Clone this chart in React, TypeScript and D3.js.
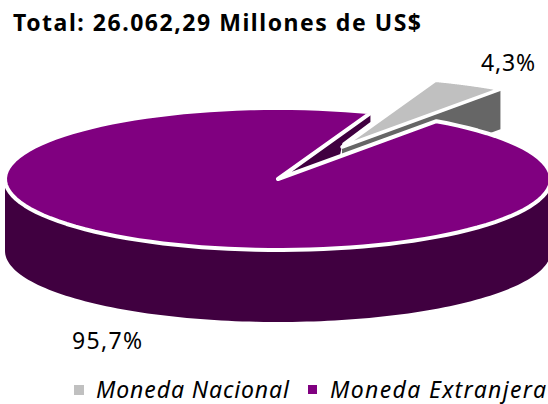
import React from "react";
import * as d3 from "d3";

const title = "Total: 26.062,29 Millones de US$";
const categories = ["Moneda Nacional", "Moneda Extranjera"];
const shares = [4.3, 95.7];
const shareLabels = ["4,3%", "95,7%"];
const topColors = ["#c0c0c0", "#800080"];
const wallColors = ["#666666", "#400040"];

const cx = 278, cy = 179, rx = 273, ry = 71;
const depth = 72, grayDepth = 40, explodeX = 64, explodeY = -32;
const font = "'Noto Sans', 'Open Sans', sans-serif";

const pt = (a: number, r = 1): [number, number] => [cx + rx * r * Math.sin(a), cy - ry * r * Math.cos(a)];
const line = d3.line<[number, number]>().x(d => d[0]).y(d => d[1]);
const arcPts = (a0: number, a1: number) => {
  const n = 120;
  return d3.range(n + 1).map(i => pt(a0 + ((a1 - a0) * i) / n));
};
const shift = (p: [number, number], dx: number, dy: number): [number, number] => [p[0] + dx, p[1] + dy];
const mix = (p: [number, number], q: [number, number], t: number): [number, number] => [p[0] + (q[0] - p[0]) * t, p[1] + (q[1] - p[1]) * t];

export default function App() {
  const start = (20 * Math.PI) / 180;
  const arcs = d3.pie<number>().sort(null).startAngle(start).endAngle(start + 2 * Math.PI)(shares);
  const [g, p] = arcs;
  const center: [number, number] = [cx, cy];

  // main slice
  const topMain = line([center, ...arcPts(p.startAngle, p.endAngle)]) + "Z";
  const front0 = Math.PI / 2, front1 = (3 * Math.PI) / 2;
  const frontTop = arcPts(front0, front1);
  const frontWall = line([...frontTop, ...frontTop.slice().reverse().map(q => shift(q, 0, depth))]) + "Z";

  // inner wall seen inside the notch
  const eA = pt(p.endAngle);
  const eB = pt(p.startAngle);
  const notchWall = line([
    center,
    mix(center, eA, 0.99),
    shift(mix(center, eA, 0.99), 0, 9),
    shift(mix(center, eA, 0.69), 0, 10),
    mix(center, eB, 0.39),
  ]) + "Z";

  // exploded slice
  const ex = (q: [number, number]) => shift(q, explodeX, explodeY);
  const gApex = ex(center);
  const gArc = arcPts(g.startAngle, g.endAngle).map(ex);
  const gEnd = gArc[gArc.length - 1];
  const gTop = line([gApex, ...gArc]) + "Z";
  const gWall = line([gApex, gEnd, shift(gEnd, 0, grayDepth), shift(gApex, 0, grayDepth)]) + "Z";

  return (
    <svg width={548} height={404} style={{ position: "absolute", left: 0, top: 0, background: "#fff" }}>
      <text x={13} y={31} fontFamily={font} fontWeight="bold" fontSize={23} textLength={408} lengthAdjust="spacing" fill="#000">{title}</text>

      <path d={frontWall} fill={wallColors[1]} />
      <path d={notchWall} fill={wallColors[1]} />
      <path d={gWall} fill={wallColors[0]} />
      <path d={gTop} fill={topColors[0]} stroke="#fff" strokeWidth={3.5} strokeLinejoin="round" />
      <path d={topMain} fill={topColors[1]} stroke="#fff" strokeWidth={4} strokeLinejoin="round" />

      <text x={481} y={71} fontFamily={font} fontSize={23} textLength={54} fill="#000">{shareLabels[0]}</text>
      <text x={72} y={349} fontFamily={font} fontSize={23} textLength={70} fill="#000">{shareLabels[1]}</text>

      <rect x={74} y={385} width={10} height={10} fill={topColors[0]} />
      <text x={96} y={398} fontFamily={font} fontStyle="italic" fontSize={23} textLength={193} fill="#000">{categories[0]}</text>
      <rect x={308} y={385} width={9} height={9} fill={topColors[1]} />
      <text x={330} y={398} fontFamily={font} fontStyle="italic" fontSize={23} textLength={216} fill="#000">{categories[1]}</text>
    </svg>
  );
}
